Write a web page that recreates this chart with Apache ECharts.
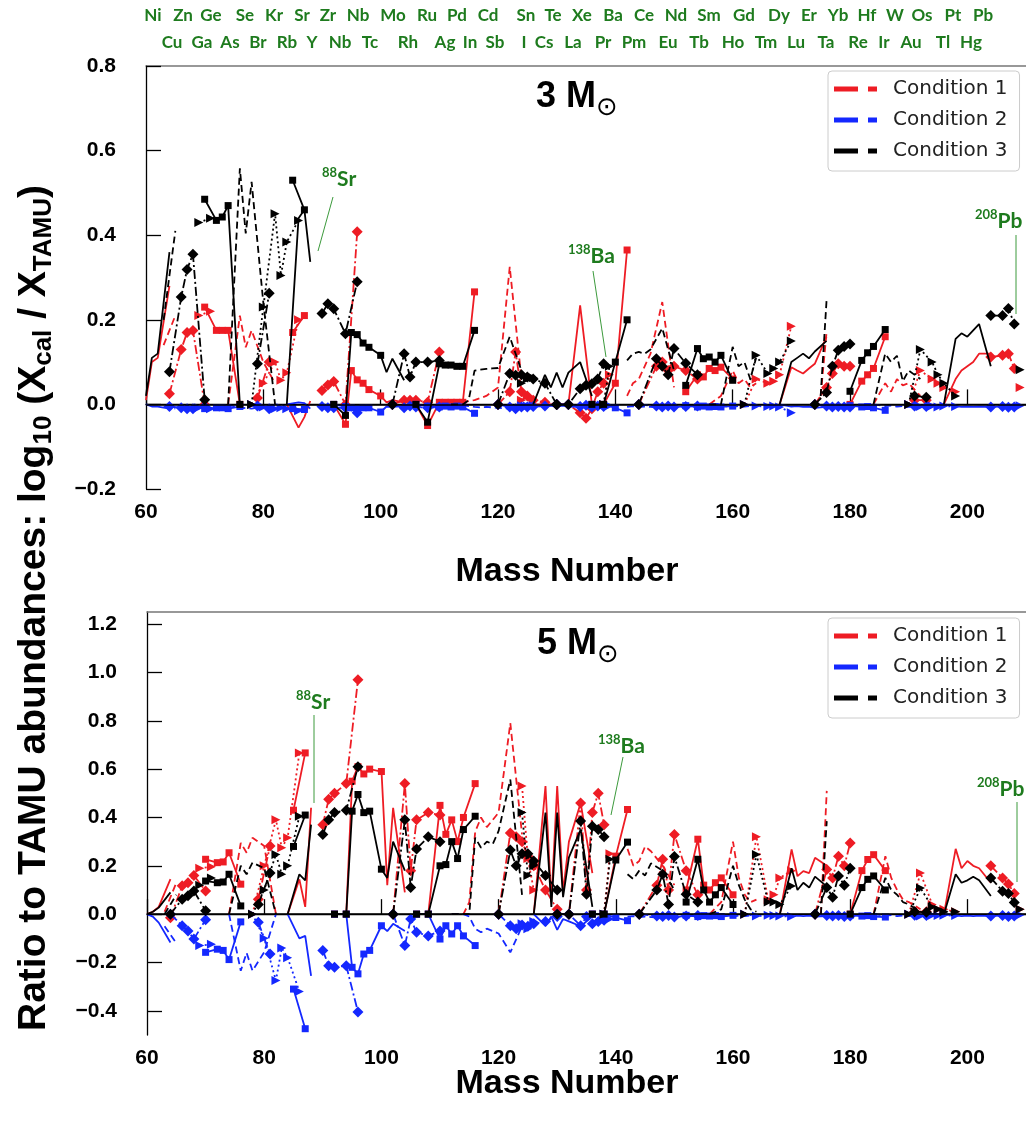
<!DOCTYPE html>
<html><head><meta charset="utf-8">
<script src="https://cdn.jsdelivr.net/npm/echarts@6/dist/echarts.min.js"></script>
<style>html,body{margin:0;padding:0;background:#fff}#c{width:1026px;height:1127px}</style>
</head><body><div id="c"></div>
<script>
// ---------------- DATA ----------------
// isotope chains (mass numbers) — one chain per element
const chainNames = ['Ni','Cu','Zn','Ga','Ge','Se','Br','Kr','Rb','Sr','Zr','Mo','Ru','Pd','Cd','Sn','Te','Sb','Xe','Ba','La','Ce','Nd','Sm','Gd','Dy','Er','Yb','Lu','Hf','W','Os','Ir','Pt','Hg','Pb','Bi'];
const chainMasses = [
 [60,61,62,64],[63,65],[64,66,67,68,70],[69,71],[70,72,73,74,76],[74,76,77,78,80,82],[79,81],[78,80,82,83,84,86],
 [85,87],[84,86,87,88],[90,91,92,94,96],[92,94,95,96,97,98,100],[96,98,99,100,101,102,104],[102,104,105,106,108,110],
 [106,108,110,111,112,113,114,116],[112,114,115,116,117,118,119,120,122,124],[120,122,123,124,125,126,128,130],[124,125,126],
 [124,126,128,129,130,131,132,134,136],[130,132,134,135,136,137,138],[138,139],[136,138,140,142],[142,143,144,145,146,148,150],
 [144,147,148,149,150,152,154],[152,154,155,156,157,158,160],[156,158,160,161,162,163,164],[162,164,166,167,168,170],
 [168,170,171,172,173,174,176],[175,176],[174,176,177,178,179,180],[180,182,183,184,186],[184,186,187,188,189,190,192],
 [191,193],[190,192,194,195,196,198],[196,198,199,200,201,202,204],[204,206,207,208],[209]
];
// 3 Msun panel
const m3_cond1 = [
 [0.01,0.10,0.11,0.28],[0.14,0.21],[0.025,0.13,0.17,0.175,0.0],[0.21,0.22],[0.23,0.175,0.175,0.175,0.0],[0.0,0.21,0.135,0.175,0.1,0.05],[0.015,0.1],[0.0,0.05,0.1,0.057,0.075,0.2],
 [0.17,0.21],[0.0,-0.055,-0.03,0.008],[0.033,0.046,0.054,0.0,0.408],[0.0,-0.047,0.08,0.058,0.05,0.035,0.02],[null,null,null,0.02,0.005,0.01,0.005],[0.0,0.01,0.01,0.01,0.005,0.124],
 [0.0,-0.05,0.005,0.005,0.005,0.005,0.005,0.266],[0.0,0.005,0.008,0.01,0.015,0.02,0.03,0.04,0.325,0.06],[0.0,0.03,0.124,0.03,0.02,0.01,0.005,0.0],[0.01,0.02,0.01],
 [null,0.0,0.0,0.0,0.0,0.0,0.0,0.234,0.0],[0.0,0.0,-0.02,-0.033,-0.01,0.03,0.05],[0.0,0.07],[0.0,0.0,0.05,0.365],[0.02,0.05,0.06,0.09,0.12,0.242,0.04],
 [0.0,0.09,0.1,0.08,0.09,0.08,0.06],[0.03,0.07,0.065,0.085,0.08,0.088,0.06],[0.0,0.02,0.08,0.05,0.06,0.04,0.05],[0.0,0.06,0.05,0.055,0.07,0.185],
 [0.0,0.088,0.08,0.073,0.085,0.096,0.16],[0.02,0.17],[0.0,0.04,0.073,0.096,0.09,0.09],[0.0,0.055,0.07,0.085,0.16],[0.0,0.05,0.03,0.06,0.045,0.05,0.02],
 [0.01,0.01],[0.0,0.08,0.06,0.05,0.04,0.03],[0.0,0.06,0.08,0.09,0.1,0.12,0.12],[0.112,0.116,0.12,0.085],[0.04]
];
const m3_cond2 = [
 [0.0,-0.005,-0.005,-0.01],[-0.005,-0.01],[-0.005,-0.008,-0.01,-0.01,-0.005],[-0.008,-0.01],[-0.01,-0.008,-0.008,-0.01,-0.005],[0.0,-0.01,-0.008,-0.01,-0.006,-0.002],[-0.004,-0.01],[0.0,-0.006,-0.01,-0.008,-0.01,-0.015],
 [-0.01,-0.012],[0.0,0.005,0.003,-0.01],[-0.005,-0.008,-0.008,-0.008,-0.02],[0.0,-0.005,-0.008,-0.01,-0.008,-0.008,-0.018],[null,null,null,-0.018,-0.005,-0.006,-0.004],[0.0,-0.008,-0.004,-0.006,-0.008,-0.006],
 [0.0,-0.004,-0.006,-0.004,-0.006,-0.004,-0.006,-0.021],[0.0,-0.002,-0.004,-0.006,-0.007,-0.006,-0.007,-0.008,-0.01,-0.006],[0.0,-0.006,-0.01,-0.006,-0.006,-0.005,-0.004,0.0],[-0.003,-0.004,-0.003],
 [null,-0.003,-0.005,-0.003,-0.006,-0.003,-0.005,-0.006,-0.002],[0.0,0.0,-0.005,-0.002,-0.006,-0.004,-0.005],[0.0,-0.003],[0.0,0.0,-0.008,-0.02],[-0.006,-0.004,-0.006,-0.005,-0.006,-0.008,-0.004],
 [0.0,-0.004,-0.006,-0.004,-0.006,-0.005,-0.004],[-0.003,-0.006,-0.004,-0.006,-0.005,-0.006,-0.004],[0.0,-0.003,-0.006,-0.004,-0.005,-0.004,-0.006],[0.0,-0.004,-0.005,-0.004,-0.006,-0.02],
 [0.0,-0.005,-0.004,-0.006,-0.005,-0.008,-0.006],[-0.003,-0.006],[0.0,-0.004,-0.006,-0.005,-0.006,-0.006],[-0.003,-0.006,-0.005,-0.008,-0.014],[0.0,-0.004,-0.003,-0.005,-0.004,-0.006,-0.004],
 [-0.004,-0.005],[0.0,-0.005,-0.004,-0.006,-0.004,-0.005],[0.0,-0.004,-0.006,-0.005,-0.006,-0.005,-0.006],[-0.006,-0.005,-0.007,-0.006],[-0.003]
];
const m3_cond3 = [
 [0.02,0.11,0.12,0.36],[0.2,0.41],[0.077,0.254,0.319,0.355,0.011],[0.43,0.44],[0.485,0.435,0.443,0.47,0.0],[0.0,0.558,0.404,0.526,0.24,0.0],[0.096,0.263],[0.0,0.23,0.451,0.305,0.384,0.435],
 [0.53,0.46],[0.0,0.44,0.46,0.337],[0.215,0.238,0.226,0.167,0.29],[0.0,-0.026,0.17,0.165,0.145,0.135,0.116],[null,null,null,0.116,0.076,0.108,0.057],[0.0,0.12,0.065,0.1,0.1,0.104],
 [0.0,-0.042,0.096,0.093,0.093,0.09,0.09,0.175],[0.0,0.0,0.01,0.08,0.082,0.084,0.085,0.086,0.16,0.08],[0.0,0.073,0.069,0.07,0.065,0.06,0.05,0.0],[0.05,0.06,0.063],
 [null,0.0,0.07,0.04,0.075,0.04,0.075,0.1,0.02],[0.0,0.0,0.037,0.045,0.049,0.06,0.096],[0.0,0.09],[0.0,0.0,0.1,0.2],[0.104,0.12,0.124,0.12,0.13,0.18,0.08],
 [0.0,0.108,0.09,0.07,0.132,0.097,0.07],[0.045,0.132,0.108,0.112,0.1,0.116,0.057],[0.0,0.0,0.136,0.09,0.1,0.06,0.11],[0.0,0.116,0.073,0.085,0.1,0.15],
 [0.0,0.1,0.11,0.12,0.109,0.125,0.15],[0.02,0.245],[0.0,0.028,0.09,0.128,0.137,0.143],[0.031,0.104,0.122,0.137,0.177],[0.0,0.12,0.1,0.115,0.055,0.08,0.06],
 [0.02,0.017],[0.0,0.13,0.1,0.07,0.05,0.02],[0.0,0.155,0.168,0.16,0.175,0.19,0.09],[0.21,0.21,0.227,0.19],[0.082]
];
// 5 Msun panel
const m5_cond1 = [
 [0.0,0.01,0.03,0.145],[0.01,0.13],[-0.015,0.117,0.13,0.16,0.096],[0.19,0.196],[0.227,0.213,0.216,0.254,0.124],[0.0,0.295,0.254,0.316,0.282,0.0],[0.062,0.282],[0.0,0.2,0.39,0.275,0.316,0.667],
 [0.43,0.667],[0.0,0.144,0.03,0.44],[0.37,0.475,0.5,0.54,0.97],[0.0,0.0,0.55,0.61,0.58,0.6,0.59],[null,null,null,0.6,0.12,0.44,0.09],[0.0,0.54,0.18,0.39,0.42,0.41],
 [0.0,0.0,0.45,0.33,0.39,0.3,0.4,0.54],[0.0,0.0,0.05,0.34,0.4,0.36,0.39,0.42,0.79,0.33],[0.0,0.336,0.32,0.3,0.24,0.2,0.1,0.02],[0.53,0.23,0.1],
 [null,0.0,0.53,0.05,0.53,0.09,0.3,0.46,0.17],[0.0,0.0,0.46,0.1,0.42,0.5,0.37],[0.0,0.25],[0.0,0.0,0.24,0.433],[0.27,0.2,0.22,0.28,0.26,0.2,0.12],
 [0.0,0.12,0.227,0.1,0.33,0.18,0.08],[0.1,0.31,0.12,0.1,0.13,0.15,0.08],[0.0,0.05,0.3,0.15,0.08,0.05,0.06],[0.0,0.32,0.06,0.08,0.15,0.18],
 [0.0,0.268,0.157,0.178,0.17,0.233,0.2],[0.0,0.51],[0.0,0.185,0.15,0.24,0.2,0.294],[0.0,0.18,0.226,0.246,0.18],[0.0,0.24,0.15,0.1,0.06,0.05,0.02],
 [0.01,0.01],[0.0,0.17,0.04,0.02,0.02,0.01],[0.0,0.27,0.19,0.22,0.2,0.19,0.13],[0.2,0.15,0.125,0.085],[0.02]
];
const m5_cond2 = [
 [0.0,-0.01,-0.035,-0.117],[-0.05,-0.12],[0.0,-0.048,-0.07,-0.103,-0.023],[-0.13,-0.125],[-0.158,-0.145,-0.15,-0.188,-0.032],[0.0,-0.234,-0.16,-0.234,-0.157,0.0],[-0.034,-0.165],[0.0,-0.1,-0.275,-0.14,-0.18,-0.32],
 [-0.31,-0.474],[0.0,-0.1,-0.09,-0.255],[-0.15,-0.213,-0.22,-0.213,-0.405],[0.0,0.0,-0.22,-0.247,-0.165,-0.15,-0.048],[null,null,null,-0.048,-0.07,-0.04,-0.07],[0.0,-0.13,-0.02,-0.075,-0.09,-0.07],
 [0.0,0.0,-0.103,-0.048,-0.082,-0.048,-0.09,-0.13],[0.0,0.0,-0.01,-0.06,-0.075,-0.06,-0.07,-0.08,-0.158,-0.05],[0.0,-0.048,-0.06,-0.045,-0.05,-0.04,-0.03,-0.01],[-0.04,-0.06,-0.03],
 [null,0.0,-0.048,-0.01,-0.065,-0.02,-0.03,-0.05,-0.01],[0.0,0.0,-0.048,-0.01,-0.04,-0.03,-0.025],[0.0,-0.02],[0.0,0.0,-0.014,-0.027],[-0.01,-0.008,-0.012,-0.01,-0.012,-0.014,-0.008],
 [0.0,-0.008,-0.01,-0.006,-0.012,-0.008,-0.006],[-0.005,-0.01,-0.006,-0.008,-0.006,-0.01,-0.005],[0.0,-0.004,-0.01,-0.006,-0.008,-0.005,-0.006],[0.0,-0.008,-0.005,-0.006,-0.008,-0.01],
 [0.0,-0.01,-0.006,-0.008,-0.006,-0.01,-0.008],[-0.004,-0.01],[0.0,-0.006,-0.008,-0.006,-0.01,-0.008],[-0.005,-0.008,-0.006,-0.01,-0.012],[0.0,-0.006,-0.004,-0.008,-0.006,-0.008,-0.005],
 [-0.005,-0.006],[0.0,-0.008,-0.005,-0.006,-0.005,-0.006],[0.0,-0.005,-0.008,-0.006,-0.008,-0.006,-0.008],[-0.008,-0.006,-0.01,-0.008],[-0.004]
];
const m5_cond3 = [
 [0.0,0.01,0.027,0.09],[0.0,0.08],[0.0,0.062,0.076,0.096,0.014],[0.12,0.15],[0.137,0.13,0.133,0.165,0.034],[0.0,0.2,0.165,0.213,0.19,0.0],[0.04,0.17],[0.0,0.1,0.247,0.165,0.2,0.405],
 [0.28,0.41],[0.0,0.165,0.14,0.37],[0.33,0.39,0.42,0.43,0.61],[0.0,0.0,0.426,0.495,0.42,0.426,0.186],[null,null,null,0.186,0.15,0.3,0.18],[0.0,0.39,0.11,0.27,0.32,0.3],
 [0.0,0.0,0.2,0.205,0.3,0.23,0.35,0.405],[0.0,0.0,0.0,0.316,0.275,0.3,0.29,0.344,0.557,0.08],[0.0,0.265,0.2,0.25,0.25,0.22,0.16,0.1],[0.42,0.16,0.2],
 [null,0.0,0.42,0.03,0.42,0.07,0.235,0.35,0.03],[0.0,0.0,0.385,0.082,0.364,0.35,0.32],[0.0,0.227],[0.0,0.0,0.224,0.298],[0.165,0.145,0.18,0.16,0.21,0.18,0.1],
 [0.0,0.1,0.165,0.04,0.238,0.082,0.05],[0.05,0.227,0.1,0.05,0.08,0.11,0.04],[0.0,0.02,0.2,0.12,0.06,0.02,0.01],[0.0,0.247,0.05,0.05,0.04,0.116],
 [0.0,0.19,0.1,0.13,0.11,0.155,0.115],[0.0,0.385],[0.0,0.11,0.07,0.158,0.12,0.19],[0.0,0.11,0.144,0.158,0.1],[0.0,0.15,0.1,0.08,0.05,0.04,0.01],
 [0.01,0.008],[0.0,0.108,0.03,0.02,0.01,0.01],[0.0,0.165,0.13,0.14,0.155,0.14,0.075],[0.15,0.095,0.085,0.048],[0.02]
];
const conditionNames = ['Condition 1','Condition 2','Condition 3'];
const xTicks = [60,80,100,120,140,160,180,200];
const yTicks3 = [-0.2,0,0.2,0.4,0.6,0.8];
const yTicks5 = [-0.4,-0.2,0,0.2,0.4,0.6,0.8,1.0,1.2];
const elemRow1 = ['Ni','Zn','Ge','Se','Kr','Sr','Zr','Nb','Mo','Ru','Pd','Cd','Sn','Te','Xe','Ba','Ce','Nd','Sm','Gd','Dy','Er','Yb','Hf','W','Os','Pt','Pb'];
const elemRow2 = ['Cu','Ga','As','Br','Rb','Y','Nb','Tc','Rh','Ag','In','Sb','I','Cs','La','Pr','Pm','Eu','Tb','Ho','Tm','Lu','Ta','Re','Ir','Au','Tl','Hg'];
const noteIso = [['88','Sr'],['138','Ba'],['208','Pb']];

// ---------------- STYLE / LAYOUT ----------------
const chainKind = ['line','dash','dashdot','dot','lineSq','dash','dashdot','dot','lineSq','line','dashdot','lineSq','line','dashdot','lineSq','dash','dashdot','dot','line','dashdot','dot','lineSq','dash','dashdot','lineSq','dash','dot','line','dash','dashdot','lineSq','dash','dashdot','dot','line','dashdot','dot'];
const KSTYLE = {
  line:   {dash:'solid', symbol:'none', size:0, rotate:0},
  lineSq: {dash:'solid', symbol:'rect', size:7, rotate:0},
  dash:   {dash:[7,4], symbol:'none', size:0, rotate:0},
  dashdot:{dash:[9,3,2,3], symbol:'diamond', size:11, rotate:0},
  dot:    {dash:[2,3], symbol:'triangle', size:9, rotate:-90}
};
const COLORS = ['#ee1c24','#1428ff','#000000'];
const GREEN = '#1e7b1e';
const AXF = 'Liberation Sans, Arial, sans-serif';
const row1X = [153,183,211,245,274,302,328,358,393,427,457,488,526,553,582,613,644,676,709,744,779,809,838,867,895,922,953,983];
const row2X = [172,202,230,258,287,312,340,370,408,445,470,495,524,544,573,603,634,668,699,733,766,796,826,858,884,911,943,971];

function panelSeries(p, condVals) {
  const out = [];
  const zs = [2,3,4];
  condVals.forEach((vals, ci) => {
    Object.keys(KSTYLE).forEach((k, ki) => {
      const data = [];
      chainKind.forEach((kind, i) => {
        if (kind !== k) return;
        chainMasses[i].forEach((m, j) => { if (vals[i][j] !== null) data.push([m, vals[i][j]]); });
        data.push([chainMasses[i][0], null]);
      });
      const st = KSTYLE[k];
      const s = {
        type:'line', name:conditionNames[ci], xAxisIndex:p*2, yAxisIndex:p, data, z:zs[ci],
        symbol:st.symbol, symbolSize:st.size, symbolRotate:st.rotate, showSymbol:st.symbol!=='none',
        connectNulls:false, silent:true, animation:false,
        lineStyle:{color:COLORS[ci], width:1.8, type:st.dash},
        itemStyle:{color:COLORS[ci], borderWidth:0},
        emphasis:{disabled:true}
      };
      if (ci === 2 && ki === 0) {
        s.markLine = {silent:true, symbol:['none','none'], label:{show:false}, animation:false,
          lineStyle:{color:'#000', width:1.6, type:'solid'}, emphasis:{disabled:true}, data:[{yAxis:0}]};
      }
      out.push(s);
    });
  });
  return out;
}

const fmt = v => (v < 0 ? '\u2212' : '') + Math.abs(v).toFixed(1);
function xAxes(grid) {
  return [
    {type:'value', gridIndex:grid, min:60, max:210,
     axisLine:{lineStyle:{color:'#000', width:1.3}},
     axisTick:{inside:true, length:15, customValues:xTicks, lineStyle:{color:'#000', width:1.3}},
     axisLabel:{fontFamily:AXF, fontWeight:'bold', fontSize:21, color:'#000', margin:13, customValues:xTicks},
     splitLine:{show:false}},
    {type:'value', gridIndex:grid, position:'top', min:60, max:210,
     axisLine:{lineStyle:{color:'#777', width:1.5}}, axisTick:{show:false}, axisLabel:{show:false}, splitLine:{show:false}}
  ];
}
function yAxis(grid, min, max, ticks) {
  return {type:'value', gridIndex:grid, min, max,
    axisLine:{show:true, lineStyle:{color:'#000', width:1.3}},
    axisTick:{show:true, inside:true, length:15, customValues:ticks, lineStyle:{color:'#000', width:1.3}},
    axisLabel:{fontFamily:AXF, fontWeight:'bold', fontSize:21, color:'#000', margin:30, formatter:fmt, customValues:ticks},
    splitLine:{show:false}};
}
const legendIcon = 'path://M0,0H24V5H0Z M34,0H43V5H34Z M53.8,2.4H54V2.6H53.8Z';
function legendAt(top) {
  return {orient:'vertical', left:828, top, itemWidth:54, itemHeight:5, itemGap:11,
    padding:[8,12,10,6], borderColor:'#cccccc', borderWidth:1, borderRadius:4, backgroundColor:'#fff',
    selectedMode:false, itemStyle:{borderWidth:0},
    textStyle:{fontFamily:'DejaVu Sans', fontSize:20, color:'#222', lineHeight:20},
    data:conditionNames.map(n => ({name:n, icon:legendIcon}))};
}
function isoNote(k, x, y) {
  return {type:'text', x, y, z:50, style:{text:'{s|'+noteIso[k][0]+'}{e|'+noteIso[k][1]+'}', align:'left', verticalAlign:'middle',
    rich:{s:{fontFamily:'Lato', fontWeight:'bold', fontSize:13, fill:GREEN, verticalAlign:'top', lineHeight:14},
          e:{fontFamily:'Lato', fontWeight:'bold', fontSize:21, fill:GREEN, verticalAlign:'bottom', lineHeight:24}}}};
}
function gline(x1,y1,x2,y2){ return {type:'line', z:50, shape:{x1,y1,x2,y2}, style:{stroke:'#3c9a3c', lineWidth:1}}; }
function massTitle(label, x, y) {
  return {type:'text', x, y, z:50, style:{text:'{m|'+label+'}{o|\u2299}', align:'left', verticalAlign:'middle',
    rich:{m:{fontFamily:AXF, fontWeight:'bold', fontSize:36, fill:'#000', lineHeight:48, verticalAlign:'middle'},
          o:{fontFamily:'DejaVu Sans', fontSize:26, fill:'#000', lineHeight:26, verticalAlign:'bottom'}}}};
}

const graphic = [];
elemRow1.forEach((t,i) => graphic.push({type:'text', x:row1X[i], y:16, style:{text:t, fontFamily:'Lato', fontWeight:'bold', fontSize:17, fill:GREEN, align:'center', verticalAlign:'middle'}}));
elemRow2.forEach((t,i) => graphic.push({type:'text', x:row2X[i], y:43, style:{text:t, fontFamily:'Lato', fontWeight:'bold', fontSize:17, fill:GREEN, align:'center', verticalAlign:'middle'}}));
graphic.push(massTitle('3 M', 536, 97));
graphic.push(massTitle('5 M', 537, 644));
graphic.push({type:'text', x:567, y:572, style:{text:'Mass Number', fontFamily:AXF, fontWeight:'bold', fontSize:34, fill:'#000', align:'center', verticalAlign:'middle'}});
graphic.push({type:'text', x:567, y:1084, style:{text:'Mass Number', fontFamily:AXF, fontWeight:'bold', fontSize:34, fill:'#000', align:'center', verticalAlign:'middle'}});
graphic.push({type:'text', x:34, y:608, rotation:Math.PI/2, style:{
  text:'{b|Ratio to TAMU abundances: log}{s|10}{b| (X}{s|cal}{b| / X}{s|TAMU}{b|)}', align:'center', verticalAlign:'middle',
  rich:{b:{fontFamily:AXF, fontWeight:'bold', fontSize:39, fill:'#000', lineHeight:46, verticalAlign:'middle'},
        s:{fontFamily:AXF, fontWeight:'bold', fontSize:26, fill:'#000', lineHeight:25, verticalAlign:'bottom'}}}});
graphic.push(isoNote(0, 322, 178), gline(333,197,318,251));
graphic.push(isoNote(1, 568, 255), gline(593,271,606,357));
graphic.push(isoNote(2, 975, 220), gline(1016,235,1016,314));
graphic.push(isoNote(0, 296, 701), gline(314,715,314,803));
graphic.push(isoNote(1, 598, 745), gline(623,757,611,815));
graphic.push(isoNote(2, 977, 788), gline(1017,802,1017,882));

const option = {
  animation:false,
  backgroundColor:'#fff',
  grid:[{left:146, top:66, right:0, height:423}, {left:147, top:612, right:0, height:423}],
  xAxis:[...xAxes(0), ...xAxes(1)],
  yAxis:[yAxis(0,-0.2,0.8,yTicks3), yAxis(1,-0.5,1.25,yTicks5)],
  legend:[legendAt(71), legendAt(618)],
  series:[...panelSeries(0,[m3_cond1,m3_cond2,m3_cond3]), ...panelSeries(1,[m5_cond1,m5_cond2,m5_cond3])],
  graphic
};
const chart = echarts.init(document.getElementById('c'));
chart.setOption(option);
</script></body></html>
